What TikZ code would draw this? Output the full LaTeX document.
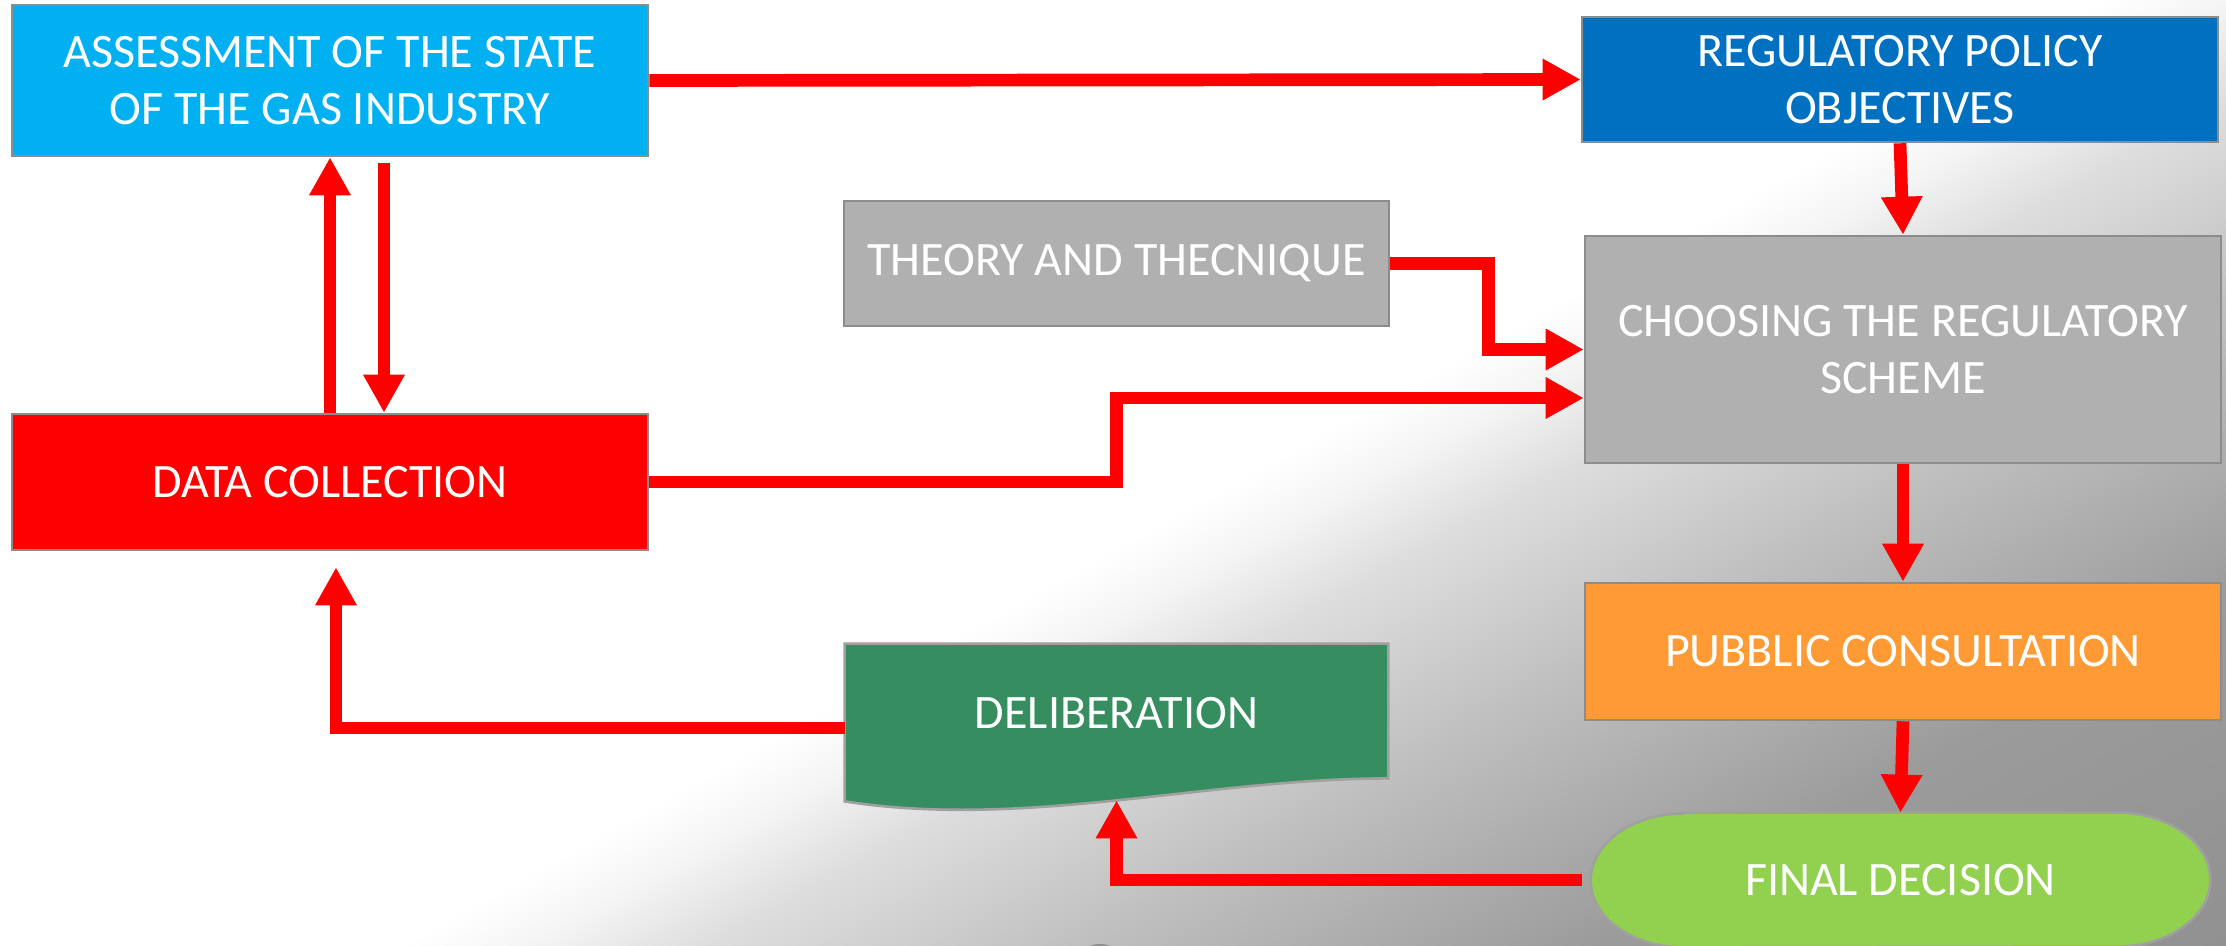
\documentclass[tikz,border=0pt]{standalone}
\usepackage{fontspec}
\setmainfont{Carlito}
\usetikzlibrary{arrows.meta,calc}

\definecolor{asmtblue}{HTML}{00B0F0}
\definecolor{regblue}{HTML}{0070C0}
\definecolor{boxgray}{HTML}{B0B0B0}
\definecolor{datared}{HTML}{FF0000}
\definecolor{puborange}{HTML}{FF9A35}
\definecolor{delibgreen}{HTML}{368D5F}
\definecolor{finalgreen}{HTML}{92D050}
\definecolor{edgegray}{HTML}{8C8C8C}
\definecolor{softedge}{HTML}{A0A0A0}
\definecolor{flowred}{HTML}{FF0000}
\definecolor{bgZ}{gray}{0.961}
\definecolor{bgA}{gray}{0.871}
\definecolor{bgB}{gray}{0.745}
\definecolor{bgC}{gray}{0.608}
\definecolor{bgD}{gray}{0.569}

% diagonal backdrop: white plateau, then greys toward the lower right
\pgfdeclarehorizontalshading{bgshade}{2500bp}{color(0bp)=(white); color(1021bp)=(white); color(1081bp)=(bgZ); color(1166bp)=(bgA); color(1360bp)=(bgB); color(1603bp)=(bgC); color(1908bp)=(bgD); color(1950bp)=(bgD)}

\pgfdeclarelayer{backdrop}
\pgfdeclarelayer{bodies}
\pgfsetlayers{backdrop,bodies,main}

\tikzset{
  flowbox/.style={rectangle, draw=edgegray, line width=1.3pt, text=white,
    align=center, inner sep=0pt, font=\fontsize{24}{28.5}\selectfont},
  flowlabel/.style={rectangle, text=white, align=center, inner sep=0pt,
    font=\fontsize{24}{28.5}\selectfont},
  flow/.style={draw=flowred, line width=6.35pt, line cap=butt, line join=miter,
    -{Triangle[width=19.5pt,length=19pt]}},
}

\begin{document}
\begin{tikzpicture}[x=0.5pt, y=-0.5pt]
\useasboundingbox (0,0) rectangle (2226,946);

% backdrop
\begin{pgfonlayer}{backdrop}
  \begin{scope}
    \clip (0,0) rectangle (2226,946);
    \begin{scope}[shift={(1123.5,491.3)}, rotate=-60.95, scale=0.49813]
      \pgflowlevelsynccm
      \pgfuseshading{bgshade}
    \end{scope}
  \end{scope}
  \fill[gray!60!black, opacity=0.4] (1100,950) ellipse[x radius=7pt, y radius=3pt];
\end{pgfonlayer}

% process boxes
\node[flowbox, fill=asmtblue, minimum width=318pt, minimum height=75.5pt]
  (asmt) at (330,80.5) {ASSESSMENT OF THE STATE\\OF THE GAS INDUSTRY};
\node[flowbox, fill=datared, minimum width=318pt, minimum height=68pt]
  (dc) at (330,482) {DATA COLLECTION};
\node[flowbox, fill=regblue, minimum width=318pt, minimum height=62.5pt]
  (reg) at (1900,79.5) {REGULATORY POLICY\\OBJECTIVES};
\node[flowbox, fill=boxgray, minimum width=272.5pt, minimum height=62.5pt]
  (theory) at (1116.5,263.5) {THEORY AND THECNIQUE};
\node[flowbox, fill=boxgray, minimum width=318pt, minimum height=113.5pt]
  (choose) at (1903,349.5) {CHOOSING THE REGULATORY\\SCHEME};
\node[flowbox, fill=puborange, minimum width=318pt, minimum height=68.5pt]
  (pub) at (1903,651.5) {PUBBLIC CONSULTATION};

% document shape and terminator (bodies drawn behind their labels)
\node[flowlabel, minimum width=271.5pt, minimum height=84pt,
  text height=8pt, text depth=8pt] (delib) at (1116.5,728) {DELIBERATION};
\node[flowlabel, minimum width=309.5pt, minimum height=67pt]
  (final) at (1900.5,880) {FINAL DECISION};

\begin{pgfonlayer}{bodies}
  \filldraw[fill=delibgreen, draw=softedge, line width=1.3pt, line join=miter]
    (delib.north west) -- (delib.north east) -- ([yshift=17pt]delib.south east)
    .. controls ([xshift=-90.5pt,yshift=17pt]delib.south east)
       and ([xshift=90.5pt,yshift=-8.5pt]delib.south west)
    .. ([yshift=5.5pt]delib.south west) -- cycle;
  \filldraw[fill=finalgreen, draw=softedge, line width=1.3pt]
    ([xshift=46.5pt]final.north west) -- ([xshift=-46.5pt]final.north east)
    arc[start angle=90, end angle=-90, x radius=46.5pt, y radius=33.5pt]
    -- ([xshift=46.5pt]final.south west)
    arc[start angle=270, end angle=90, x radius=46.5pt, y radius=33.5pt]
    -- cycle;
\end{pgfonlayer}

% connectors
\draw[flow] (asmt.east) -- (reg.west);
\draw[flow] (reg.south) -- (choose.north);
\draw[flow] (theory.east) -- ++(98,0) |- (choose.west);
\draw[flow] (dc.east) -- ++(467,0) |- ([yshift=-24.25pt]choose.west);
\draw[flow] (choose.south) -- (pub.north);
\draw[flow] (pub.south) -- (final.north);
\draw[flow] ([xshift=-4.5pt]final.west) -| ([yshift=6pt]delib.south);
\draw[flow] (delib.west) -| ([xshift=3pt,yshift=-8pt]dc.south);
\draw[flow] (dc.north) -- (asmt.south);
\draw[flow] ([xshift=27pt,yshift=-3pt]asmt.south) -- ([xshift=27pt]dc.north);
\end{tikzpicture}
\end{document}
